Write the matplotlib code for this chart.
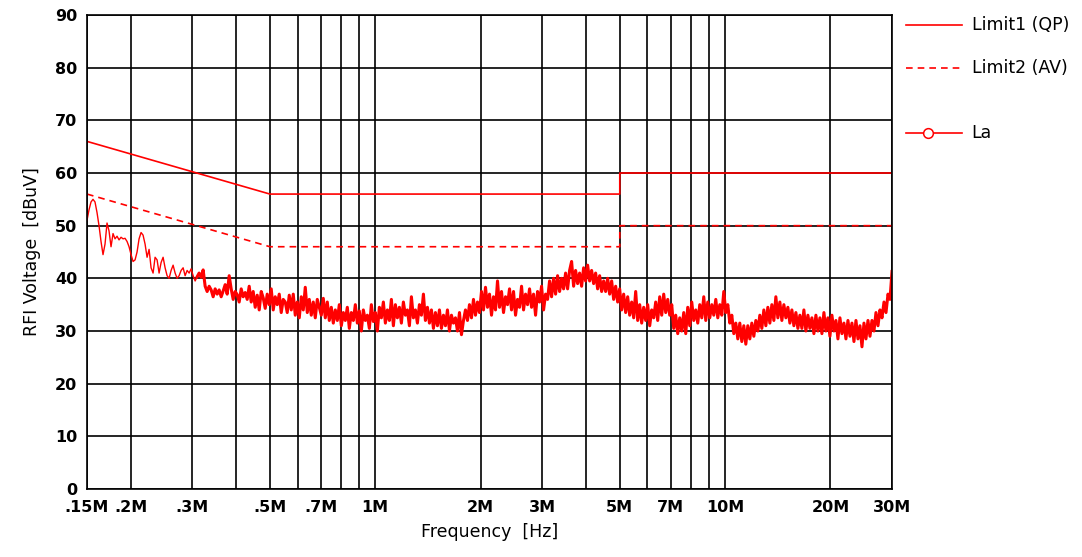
import numpy as np
import matplotlib
matplotlib.use('Agg')
import matplotlib.pyplot as plt

# limit lines (frequency in MHz, level in dBuV)
qp_freq = [0.15, 0.5, 0.5, 5, 5, 30]
qp_level = [66, 56, 56, 56, 60, 60]
av_freq = [0.15, 0.5, 0.5, 5, 5, 30]
av_level = [56, 46, 46, 46, 50, 50]

la_level = [
    51, 53, 54.5, 55, 54.5, 52.5, 50, 47, 44.5, 46.5,
    50.5, 49, 46, 48.5, 47.5, 48, 47.3, 47.8, 47.5, 47.6,
    47, 46, 44.5, 43.2, 43.5, 45, 47.5, 48.7, 48.2, 46.5,
    44, 45.5, 42, 41, 44, 43.5, 41, 43, 44, 42,
    40.5, 40, 41.5, 42.5, 41, 40, 40.5, 41.5, 42, 40.5,
    41.5, 41, 41.8, 40.5, 39.5, 40.3, 41, 40.2, 41.6, 38.5,
    37.5, 38.5, 37.8, 36.5, 38, 37, 37.8, 36.5, 37.6, 38.8,
    37, 40.5, 38, 36, 37.5, 36.9, 35.5, 38, 36.5, 37.3,
    36, 38.5, 35.5, 37.5, 34.5, 36.8, 34, 37.5, 36.3, 34.3,
    37, 35, 38, 34, 36.5, 35, 37, 33.5, 36, 35.5,
    33.5, 36.8, 34, 37, 33, 35.5, 32.5, 36.5, 34, 38.3,
    33.5, 36, 33, 35.5, 32.5, 36, 34.5, 33, 36.2, 32.5,
    35.5, 32, 34.5, 31.5, 34, 32, 35, 31, 33.5, 32,
    34.5, 30.5, 33.5, 32, 35, 31.5, 33.8, 30, 34, 32,
    33, 30.5, 35, 31.8, 33.5, 30, 34.5, 32.5, 35.5, 31.5,
    34, 32, 36, 31, 35, 32.5, 34.5, 31.5, 35.5, 33,
    34, 31, 36.5, 32.5, 34, 31.5, 35, 33, 37, 32,
    34.5, 31.5, 34, 30.5, 33.5, 31, 34, 30.5, 33, 31,
    34, 30, 33, 31.5, 32.5, 30, 33.5, 29.3, 32, 34,
    32, 35, 32.5, 36, 33, 35.5, 33.5, 37.5, 34, 38.3,
    34.5, 37, 33, 36.5, 34, 39.5, 34.5, 37.5, 33.5, 36.5,
    35, 38, 34, 37.5, 33, 36, 34.5, 38.5, 34, 37,
    35, 38, 34.5, 37, 33, 37.5, 35.5, 38.5, 34, 37,
    36, 39.5, 36.5, 40, 37, 40.5, 37.5, 40, 38, 41,
    38, 41.5, 43.2, 38.5, 41.5, 39, 41, 38.5, 42, 39.5,
    42.5, 39.5, 41.5, 39, 41, 38, 40.5, 37.5, 39.5, 37.5,
    40, 37, 39.5, 36, 38.5, 35.5, 38, 34, 37, 33.5,
    36.5, 33, 35.5, 32.5, 37.5, 32, 35, 31.5, 34.5, 32,
    35, 31, 34, 32.5, 35.5, 32, 36.5, 33, 37, 33.5,
    36, 33, 35, 30.5, 33, 29.5, 32.5, 30, 33.5, 29.5,
    34.5, 31, 35.5, 32, 34, 31.5, 35, 32.5, 36.5, 32,
    35.5, 32.5, 35, 33, 36, 32.5, 35, 33, 37.5, 33.5,
    35, 31.5, 33, 29.5, 31.5, 28.5, 31.5, 28, 31, 27.5,
    31, 28.5, 31.5, 29, 32, 30, 33, 30.5, 34, 31,
    34.5, 31.5, 35, 32, 36.5, 32.5, 35.5, 32, 35, 32.5,
    34.5, 31.5, 34, 31, 33.5, 30.5, 33, 30.5, 34, 30,
    33, 30.5, 32.5, 29.5, 33, 30, 32.5, 29.5, 33.5, 30,
    32.5, 29, 33, 30, 32, 28.5, 32.5, 29.5, 31.5, 28.5,
    32, 29, 31.5, 28, 32, 28.5, 31, 27, 31.5, 28.5,
    32, 29, 32, 30, 33.5, 31, 34, 32.5, 35.5, 33.5,
    37, 36, 41.3,
]
la_freq = np.geomspace(0.15, 30, len(la_level))

major_ticks = [0.15, 0.2, 0.3, 0.5, 0.7, 1, 2, 3, 5, 7, 10, 20, 30]
major_labels = ['.15M', '.2M', '.3M', '.5M', '.7M', '1M', '2M', '3M', '5M', '7M', '10M', '20M', '30M']
minor_ticks = [0.4, 0.6, 0.8, 0.9, 4, 6, 8, 9]

red = '#ff0000'

fig = plt.figure(figsize=(10.82, 5.57), dpi=100)
ax = fig.add_axes([87 / 1082, 68 / 557, 805 / 1082, 474 / 557])

ax.plot(qp_freq, qp_level, color=red, lw=1.2)
ax.plot(av_freq, av_level, color=red, lw=1.2, ls=(0, (4, 3)))
# thin where the trace is a single line, heavier where it is a dense band
split = 55
ax.plot(la_freq[:split + 1], la_level[:split + 1], color=red, lw=1.0)
ax.plot(la_freq[split:], la_level[split:], color=red, lw=2.2)

ax.set_xscale('log')
ax.set_xlim(0.15, 30)
ax.set_ylim(0, 90)
ax.set_xticks(major_ticks)
ax.set_xticklabels(major_labels)
ax.set_xticks(minor_ticks, minor=True)
ax.set_yticks(range(0, 91, 10))
ax.tick_params(which='both', length=0)
ax.tick_params(axis='x', pad=8)
ax.tick_params(axis='y', pad=7)
for lab in ax.get_xticklabels() + ax.get_yticklabels():
    lab.set_fontsize(11.5)
    lab.set_fontweight('bold')
ax.grid(True, which='both', color='black', lw=1.2)
for s in ax.spines.values():
    s.set_linewidth(1.2)

ax.set_xlabel('Frequency  [Hz]', fontsize=12.5, labelpad=6)
ax.set_ylabel('RFI Voltage  [dBuV]', fontsize=12.5, labelpad=10)

# legend drawn at the right of the plot
tr = ax.transAxes
ax.plot([1.0174, 1.087], [0.979, 0.979], color=red, lw=1.2, transform=tr, clip_on=False)
ax.plot([1.0174, 1.087], [0.888, 0.888], color=red, lw=1.2, ls=(0, (4, 3)), transform=tr, clip_on=False)
ax.plot([1.0174, 1.087], [0.751, 0.751], color=red, lw=1.2, transform=tr, clip_on=False)
ax.plot([1.0447], [0.751], marker='o', ms=7, mfc='white', mec=red, mew=1.1, transform=tr, clip_on=False)
ax.text(1.099, 0.979, 'Limit1 (QP)', transform=tr, fontsize=12.5, va='center')
ax.text(1.099, 0.888, 'Limit2 (AV)', transform=tr, fontsize=12.5, va='center')
ax.text(1.099, 0.751, 'La', transform=tr, fontsize=12.5, va='center')

plt.savefig('out.png', dpi=100)
